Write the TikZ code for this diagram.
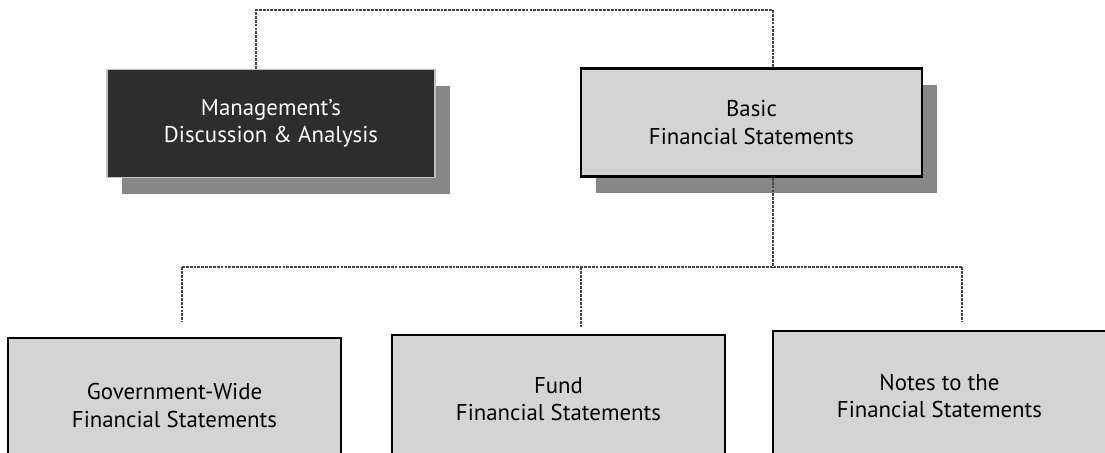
\documentclass[tikz,border=0pt]{standalone}
\usepackage{fontspec}
\setmainfont{PT Sans}
\usepackage{tikz}
\usetikzlibrary{positioning, calc, shadows}
\definecolor{darkbox}{RGB}{45, 45, 45}
\definecolor{lightbox}{RGB}{212, 212, 212}
\definecolor{shade}{RGB}{135, 135, 135}
\definecolor{wire}{RGB}{70, 70, 70}

\begin{document}
\begin{tikzpicture}[
    box/.style={rectangle, inner sep=0pt, align=center,
                font=\fontsize{13}{15.5}\selectfont,
                line width=1.6pt, draw=black},
    topbox/.style={box, minimum height=2.16cm,
                   drop shadow={shadow xshift=0.3cm,
                                shadow yshift=-0.32cm,
                                fill=shade, opacity=1}},
    lowbox/.style={box, fill=lightbox, minimum width=6.66cm},
    conn/.style={line width=0.6pt, color=wire,
                 dash pattern=on 1.6pt off 0.6pt},
]

% -- Canvas ---------------------------------
\clip (0,0) rectangle (22.1,-9.06);
\fill[white] (0,0) rectangle (22.1,-9.06);

% -- Upper row ------------------------------
\node[topbox, fill=darkbox, draw=black!25,
      line width=0.6pt, text=white,
      minimum width=6.56cm]
    (mda) at (5.42,-2.47)
    {Management's\\Discussion \& Analysis};
\node[topbox, fill=lightbox,
      minimum width=6.82cm]
    (basic) at (15.03,-2.45)
    {Basic\\Financial Statements};

% -- Lower row ------------------------------
\node[lowbox, minimum height=2.70cm]
    (gov) at (3.49,-8.11)
    {Government-Wide\\Financial Statements};
\node[lowbox, minimum height=2.56cm]
    (fund) at (11.17,-7.98)
    {Fund\\Financial Statements};
\node[lowbox, minimum height=2.60cm]
    (notes) at (18.79,-7.92)
    {Notes to the\\Financial Statements};

% -- Bus points -----------------------------
\coordinate (topl) at (5.12,-0.2);
\coordinate (topr) at (15.46,-0.2);
\coordinate (busl) at (3.64,-5.34);
\coordinate (busm) at (11.62,-5.34);
\coordinate (busr) at (19.24,-5.34);

% -- Connectors -----------------------------
\draw[conn] (mda.north -| topl) -- (topl)
    -- (topr) -- (basic.north -| topr);
\draw[conn] (basic.south -| topr) -- (busr -| topr);
\draw[conn] (busl) -- (busr);
\draw[conn, shorten >=0.3cm] (busl) -- (gov.north -| busl);
\draw[conn, shorten >=0.14cm] (busm) -- (fund.north -| busm);
\draw[conn, shorten >=0.16cm] (busr) -- (notes.north -| busr);

\end{tikzpicture}
\end{document}
